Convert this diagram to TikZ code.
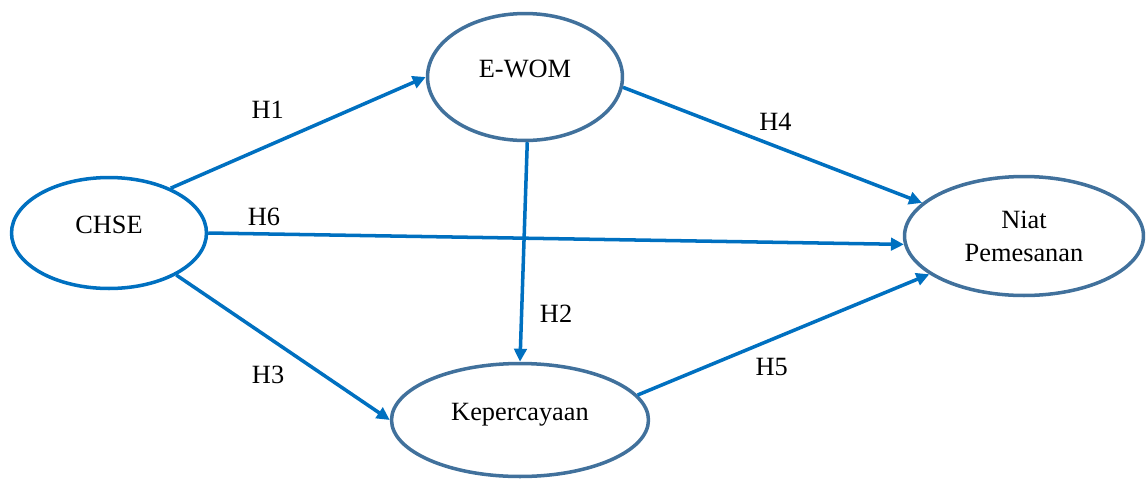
\documentclass[tikz,border=0pt]{standalone}
\usepackage{fontspec}
\setmainfont{Liberation Serif}
\usetikzlibrary{shapes.geometric,arrows.meta}
\definecolor{steel}{RGB}{65,113,156}
\definecolor{arrowblue}{RGB}{0,112,192}

\begin{document}
\begin{tikzpicture}[x=0.02cm,y=-0.02cm,font=\fontsize{15}{18.8}\selectfont,
    construct/.style={shape=ellipse,draw=steel,line width=2pt,inner sep=0pt,text height=0.4cm,text depth=0.4cm},
    hyp/.style={draw=arrowblue,line width=2pt,-{Triangle[length=0.26cm,width=0.25cm]}}]
    \useasboundingbox (0,0) rectangle (1147,481);
    \node[construct,draw=arrowblue,minimum width=3.9cm,minimum height=2.22cm] (chse) at (109,233) {CHSE};
    \node[construct,minimum width=3.9cm,minimum height=2.54cm] (ewom) at (525,77) {E-WOM};
    \node[construct,minimum width=5.14cm,minimum height=2.26cm] (kep) at (520,420) {Kepercayaan};
    \node[construct,text height=,text depth=,align=center,minimum width=4.78cm,minimum height=2.38cm] (niat) at (1024,236) {Niat\\Pemesanan};
    \path (chse.36) edge[hyp] node[pos=0.38,yshift=0.72cm] {H1} (ewom.west);
    \path (ewom.-6) edge[hyp] node[pos=0.51,yshift=0.49cm] {H4} (niat.162);
    \path (chse.east) edge[hyp] node[pos=0.08,yshift=0.34cm] {H6} (niat.184);
    \path (ewom.-88) edge[hyp] node[pos=0.78,xshift=0.69cm] {H2} (kep.north);
    \path (chse.-32) edge[hyp] node[pos=0.43,yshift=-0.75cm] {H3} (kep.west);
    \path (kep.12) edge[hyp] node[pos=0.46,yshift=-0.55cm] {H5} (niat.202);
\end{tikzpicture}
\end{document}
